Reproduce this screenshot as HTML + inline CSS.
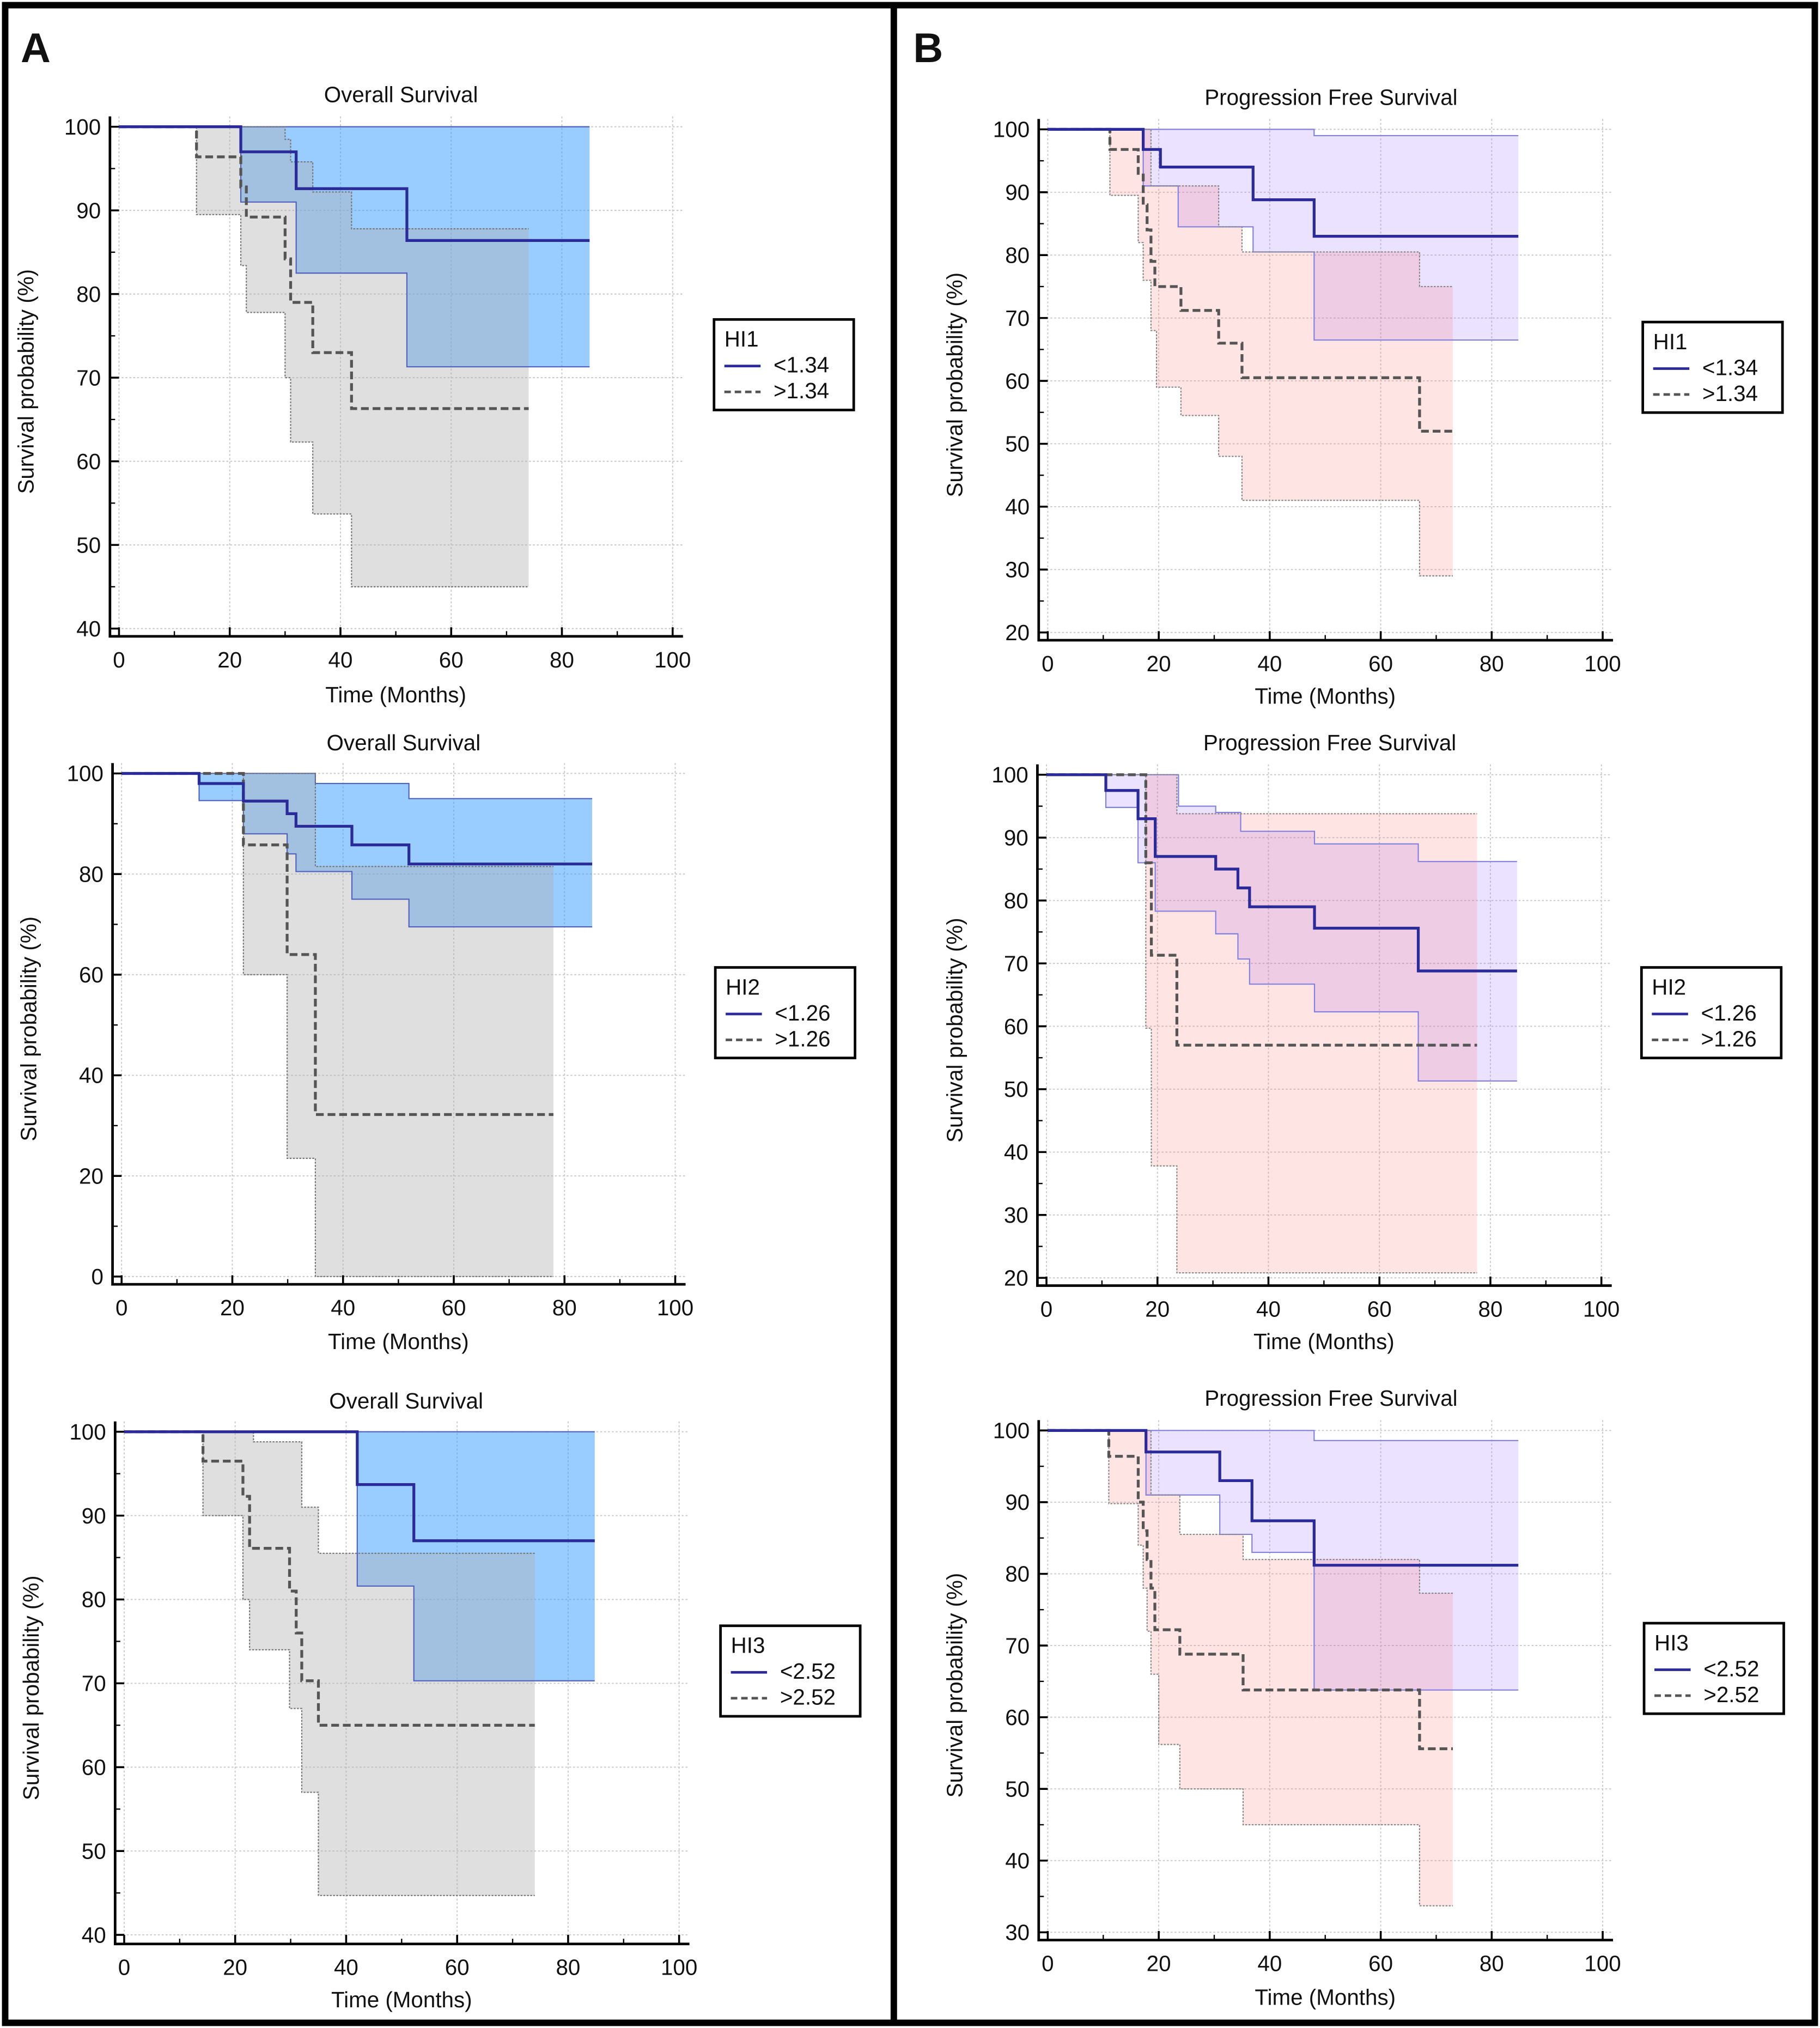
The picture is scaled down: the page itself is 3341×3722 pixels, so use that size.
<!DOCTYPE html>
<html><head><meta charset="utf-8"><style>
html,body{margin:0;padding:0;background:#fff}
svg{display:block}
text{font-family:"Liberation Sans",Arial,sans-serif;fill:#111}
</style></head><body>
<svg id="fig" width="3341" height="3722" viewBox="0 0 1407 1568" preserveAspectRatio="none" xmlns="http://www.w3.org/2000/svg">
<rect x="0" y="0" width="1407" height="1568" fill="#fff"/>
<rect x="4" y="4" width="1399" height="1560" fill="none" stroke="#000" stroke-width="5"/>
<line x1="691" y1="4" x2="691" y2="1564" stroke="#000" stroke-width="5"/>
<text x="16" y="48" font-size="32" font-weight="bold">A</text>
<text x="706" y="48" font-size="32" font-weight="bold">B</text>
<g id="charts"></g>
</svg>
<script>
// ---- data: step curves: times (months) and survival values (%) ----
const a1BlueT=[0,22,32,52,85], a1BlueS=[100,97,92.6,86.4];
const a1BlueUpT=[0,85], a1BlueUpS=[100];
const a1BlueLoT=[0,22,32,52,85], a1BlueLoS=[100,91,82.5,71.3];
const a1GreyT=[0,14,22,23,30,31,35,42,74], a1GreyS=[100,96.4,92.8,89.2,84.2,79,73,66.3];
const a1GreyUpT=[0,30,31,35,42,74], a1GreyUpS=[100,98.5,95.8,92.2,87.8];
const a1GreyLoT=[0,14,22,23,30,31,35,42,74], a1GreyLoS=[100,89.5,83.4,77.8,70,62.3,53.7,45];

const a2BlueT=[0,14,22,29.9,31.5,41.6,51.9,85], a2BlueS=[100,98,94.5,92,89.5,85.8,82];
const a2BlueUpT=[0,35,51.9,85], a2BlueUpS=[100,98,95];
const a2BlueLoT=[0,14,22,29.9,31.5,41.6,51.9,85], a2BlueLoS=[100,94.6,88,84,80.5,75,69.5];
const a2GreyT=[0,22,29.9,35,78], a2GreyS=[100,85.8,64,32.2];
const a2GreyUpT=[0,35,78], a2GreyUpS=[100,81.5];
const a2GreyLoT=[0,22,29.9,35,78], a2GreyLoS=[100,60,23.5,0];

const a3BlueT=[0,42,52.2,84.8], a3BlueS=[100,93.7,87];
const a3BlueUpT=[0,84.8], a3BlueUpS=[100];
const a3BlueLoT=[0,42,52.2,84.8], a3BlueLoS=[100,81.6,70.3];
const a3GreyT=[0,14.2,21.4,22.6,29.8,31,32,35,74], a3GreyS=[100,96.5,92.3,86.1,81,76,70.3,65];
const a3GreyUpT=[0,23.3,32,35,74], a3GreyUpS=[100,98.8,91,85.5];
const a3GreyLoT=[0,14.2,21.4,22.6,29.8,32,35,74], a3GreyLoS=[100,90,80,74,67,57,44.7];

const b1BlueT=[0,17.2,20.3,37,48,84.8], b1BlueS=[100,96.8,94,88.8,83];
const b1BlueUpT=[0,48,84.8], b1BlueUpS=[100,99];
const b1BlueLoT=[0,17.2,23.5,37,48,84.8], b1BlueLoS=[100,91,84.5,80.5,66.5];
const b1RedT=[0,11.2,16.3,17.2,17.9,18.6,19.3,24,30.8,35,67,73], b1RedS=[100,96.8,93,88,84,79,75,71.2,66,60.5,52];
const b1RedUpT=[0,18.6,30.8,35,67,73], b1RedUpS=[100,91,84.5,80.5,75];
const b1RedLoT=[0,11.2,16.3,17.2,18.6,19.6,24,30.8,35,67,73], b1RedLoS=[100,89.5,82,76,68,59,54.5,48,41,29];

const b2BlueT=[0,10.7,16.5,19.6,30.5,34.5,36.6,48.3,67,84.8], b2BlueS=[100,97.5,93,87,85,82,79,75.6,68.8];
const b2BlueUpT=[0,23.8,30.5,35,48.3,67,84.8], b2BlueUpS=[100,95,94,91,89,86.2];
const b2BlueLoT=[0,10.7,16.5,19.6,30.5,34.5,36.6,48.3,67,84.8], b2BlueLoS=[100,94.8,86,78.3,74.7,70.7,66.7,62.3,51.3];
const b2RedT=[0,17.9,18.9,23.5,77.6], b2RedS=[100,86,71.3,57];
const b2RedUpT=[0,23.5,77.6], b2RedUpS=[100,93.8];
const b2RedLoT=[0,17.9,18.9,23.5,77.6], b2RedLoS=[100,59.7,37.8,20.8];

const b3BlueT=[0,17.7,31,36.8,48,84.8], b3BlueS=[100,97,93,87.4,81.2];
const b3BlueUpT=[0,48,84.8], b3BlueUpS=[100,98.6];
const b3BlueLoT=[0,17.7,31,36.8,48,84.8], b3BlueLoS=[100,91,85.5,83,63.8];
const b3RedT=[0,11,16.3,17.2,17.9,18.6,19.3,23.8,35.2,67,73], b3RedS=[100,96.4,90,86,82,78,72.2,68.8,63.8,55.6];
const b3RedUpT=[0,18.6,23.8,35.2,67,73], b3RedUpS=[100,91,85.5,82,77.3];
const b3RedLoT=[0,11,16.3,17.2,17.9,18.6,20,23.8,35.2,67,73], b3RedLoS=[100,89.8,84,78,72,66,56.2,50,45,33.7];

const xTicks=[0,20,40,60,80,100];
const legendA=[["HI1","<1.34",">1.34"],["HI2","<1.26",">1.26"],["HI3","<2.52",">2.52"]];

// ---- layout ----
const NS="http://www.w3.org/2000/svg";
const root=document.getElementById('charts');
function mk(tag,attrs,parent){const e=document.createElementNS(NS,tag);for(const k in attrs)e.setAttribute(k,attrs[k]);(parent||root).appendChild(e);return e;}
const FS=17;

const charts=[
 {id:'a1',x0:92,x100:520,yHiV:100,yHiP:98,yLoV:40,yLoP:486,fl:85,fb:492,step:10,minor:5,title:'Overall Survival',tY:79,tX:310,xlY:543,ylX:20,leg:[552,247],lab:legendA[0],type:'A',
  blue:[a1BlueT,a1BlueS],bu:[a1BlueUpT,a1BlueUpS],bl:[a1BlueLoT,a1BlueLoS],g:[a1GreyT,a1GreyS],gu:[a1GreyUpT,a1GreyUpS],gl:[a1GreyLoT,a1GreyLoS]},
 {id:'a2',x0:94,x100:522,yHiV:100,yHiP:598,yLoV:0,yLoP:987,fl:87,fb:993,step:20,minor:10,title:'Overall Survival',tY:580,tX:312,xlY:1043,ylX:22,leg:[553,748],lab:legendA[1],type:'A',
  blue:[a2BlueT,a2BlueS],bu:[a2BlueUpT,a2BlueUpS],bl:[a2BlueLoT,a2BlueLoS],g:[a2GreyT,a2GreyS],gu:[a2GreyUpT,a2GreyUpS],gl:[a2GreyLoT,a2GreyLoS]},
 {id:'a3',x0:96,x100:525,yHiV:100,yHiP:1107,yLoV:40,yLoP:1496,fl:89,fb:1503,step:10,minor:5,title:'Overall Survival',tY:1089,tX:314,xlY:1552,ylX:24,leg:[557,1257],lab:legendA[2],type:'A',
  blue:[a3BlueT,a3BlueS],bu:[a3BlueUpT,a3BlueUpS],bl:[a3BlueLoT,a3BlueLoS],g:[a3GreyT,a3GreyS],gu:[a3GreyUpT,a3GreyUpS],gl:[a3GreyLoT,a3GreyLoS]},
 {id:'b1',x0:810,x100:1239,yHiV:100,yHiP:100,yLoV:20,yLoP:489,fl:803,fb:495,step:10,minor:5,title:'Progression Free Survival',tY:81,tX:1029,xlY:544,ylX:738,leg:[1270,249],lab:legendA[0],type:'B',
  blue:[b1BlueT,b1BlueS],bu:[b1BlueUpT,b1BlueUpS],bl:[b1BlueLoT,b1BlueLoS],g:[b1RedT,b1RedS],gu:[b1RedUpT,b1RedUpS],gl:[b1RedLoT,b1RedLoS]},
 {id:'b2',x0:809,x100:1238,yHiV:100,yHiP:599,yLoV:20,yLoP:988,fl:802,fb:994,step:10,minor:5,title:'Progression Free Survival',tY:580,tX:1028,xlY:1043,ylX:738,leg:[1269,748],lab:legendA[1],type:'B',
  blue:[b2BlueT,b2BlueS],bu:[b2BlueUpT,b2BlueUpS],bl:[b2BlueLoT,b2BlueLoS],g:[b2RedT,b2RedS],gu:[b2RedUpT,b2RedUpS],gl:[b2RedLoT,b2RedLoS]},
 {id:'b3',x0:810,x100:1239,yHiV:100,yHiP:1106,yLoV:30,yLoP:1494,fl:803,fb:1500,step:10,minor:5,title:'Progression Free Survival',tY:1087,tX:1029,xlY:1550,ylX:738,leg:[1271,1255],lab:legendA[2],type:'B',
  blue:[b3BlueT,b3BlueS],bu:[b3BlueUpT,b3BlueUpS],bl:[b3BlueLoT,b3BlueLoS],g:[b3RedT,b3RedS],gu:[b3RedUpT,b3RedUpS],gl:[b3RedLoT,b3RedLoS]}
];

function stepPath(t,s,X,Y){let d='M'+X(t[0])+','+Y(s[0]);for(let i=0;i<s.length;i++){d+=' L'+X(t[i])+','+Y(s[i])+' L'+X(t[i+1])+','+Y(s[i]);}return d;}
function bandPath(ut,us,lt,ls,X,Y){
  let d='M'+X(ut[0])+','+Y(us[0]);
  for(let i=0;i<us.length;i++){d+=' L'+X(ut[i])+','+Y(us[i])+' L'+X(ut[i+1])+','+Y(us[i]);}
  for(let i=ls.length-1;i>=0;i--){d+=' L'+X(lt[i+1])+','+Y(ls[i])+' L'+X(lt[i])+','+Y(ls[i]);}
  return d+' Z';
}

charts.forEach(c=>{
  const X=v=>c.x0+(c.x100-c.x0)*v/100;
  const Y=v=>c.yHiP+(c.yHiV-v)*(c.yLoP-c.yHiP)/(c.yHiV-c.yLoV);
  const g=mk('g',{});
  
  
  const right=c.x100+8, top=c.yHiP-8;
  xTicks.forEach(v=>{const l=mk('line',{x1:X(v),x2:X(v),y1:top,y2:c.fb,stroke:'#c8c8c8','stroke-width':0.8,'stroke-dasharray':'1.5,1.5'},g);
    });
  for(let v=c.yLoV;v<=c.yHiV;v+=c.step){const l=mk('line',{x1:c.fl,x2:right,y1:Y(v),y2:Y(v),stroke:'#c8c8c8','stroke-width':0.8,'stroke-dasharray':'1.5,1.5'},g);
    }
  const isA=c.type==='A';
  const fillB=isA?'#3399ff':'#9a70ff', opB=isA?0.5:0.2;
  const fillG=isA?'#b0b0b0':'#ff6a6a', opG=isA?0.4:0.18;
  const edgeB=isA?'#5060c0':'#8080e0', edgeG=isA?'#777':'#888';
  const lineB='#2a2a9a', lineG='#555';
  const bb=mk('path',{d:bandPath(c.bu[0],c.bu[1],c.bl[0],c.bl[1],X,Y),fill:fillB,'fill-opacity':opB,stroke:'none'},g);
  
  const gb=mk('path',{d:bandPath(c.gu[0],c.gu[1],c.gl[0],c.gl[1],X,Y),fill:fillG,'fill-opacity':opG,stroke:'none'},g);
  
  [[c.bu,edgeB,'none'],[c.bl,edgeB,'none'],[c.gu,edgeG,'1.5,1'],[c.gl,edgeG,'1.5,1']].forEach(e=>{
    const p=mk('path',{d:stepPath(e[0][0],e[0][1],X,Y),fill:'none',stroke:e[1],'stroke-width':0.9,'stroke-dasharray':e[2]},g);
    });
  const gl=mk('path',{d:stepPath(c.g[0],c.g[1],X,Y),fill:'none',stroke:lineG,'stroke-width':2.2,'stroke-dasharray':'6,3'},g);
  
  const bl=mk('path',{d:stepPath(c.blue[0],c.blue[1],X,Y),fill:'none',stroke:lineB,'stroke-width':2.2},g);
  
  const ax=mk('path',{d:'M'+c.fl+','+(top)+' L'+c.fl+','+c.fb+' L'+right+','+c.fb,fill:'none',stroke:'#000','stroke-width':2},g);
  
  xTicks.forEach(v=>{mk('line',{x1:X(v),x2:X(v),y1:c.fb,y2:c.fb-7,stroke:'#000','stroke-width':1.5},g);
    const t=mk('text',{x:X(v),y:c.fb+24,'font-size':FS,'text-anchor':'middle'},g);t.textContent=v;
    });
  for(let v=10;v<100;v+=20){mk('line',{x1:X(v),x2:X(v),y1:c.fb,y2:c.fb-4,stroke:'#000','stroke-width':1},g);}
  for(let v=c.yLoV;v<=c.yHiV;v+=c.step){mk('line',{x1:c.fl,x2:c.fl+7,y1:Y(v),y2:Y(v),stroke:'#000','stroke-width':1.5},g);
    const t=mk('text',{x:c.fl-7,y:Y(v)+6,'font-size':FS,'text-anchor':'end'},g);t.textContent=v;
    }
  for(let v=c.yLoV+c.minor;v<c.yHiV;v+=c.step){mk('line',{x1:c.fl,x2:c.fl+4,y1:Y(v),y2:Y(v),stroke:'#000','stroke-width':1},g);}
  const tt=mk('text',{x:c.tX,y:c.tY,'font-size':FS,'text-anchor':'middle'},g);tt.textContent=c.title;
  
  const xl=mk('text',{x:(c.x0+c.x100)/2,y:c.xlY,'font-size':FS,'text-anchor':'middle'},g);xl.textContent='Time (Months)';
  
  const cy=(c.yHiP+c.fb)/2;
  const yl=mk('text',{x:c.ylX,y:cy,'font-size':FS,'text-anchor':'middle',transform:'rotate(-90 '+c.ylX+' '+cy+')',dy:'6'},g);yl.textContent='Survival probability (%)';
  
  const lx=c.leg[0], ly=c.leg[1];
  const lg=mk('g',{},g);
  
  mk('rect',{x:lx,y:ly,width:108,height:70,fill:'#fff',stroke:'#000','stroke-width':2},lg);
  const lt=mk('text',{x:lx+8,y:ly+21,'font-size':FS},lg);lt.textContent=c.lab[0];
  mk('line',{x1:lx+8,x2:lx+36,y1:ly+36,y2:ly+36,stroke:lineB,'stroke-width':2},lg);
  const e1=mk('text',{x:lx+46,y:ly+41,'font-size':FS},lg);e1.textContent=c.lab[1];
  
  mk('line',{x1:lx+8,x2:lx+36,y1:ly+56,y2:ly+56,stroke:lineG,'stroke-width':2,'stroke-dasharray':'5,3'},lg);
  const e2=mk('text',{x:lx+46,y:ly+61,'font-size':FS},lg);e2.textContent=c.lab[2];
  
});
</script>
</body></html>
